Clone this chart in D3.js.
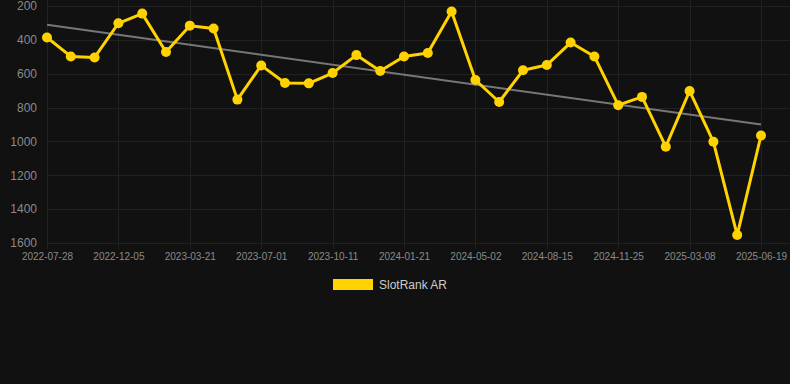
<!DOCTYPE html>
<html>
<head>
<meta charset="utf-8">
<script src="https://cdn.jsdelivr.net/npm/d3@7"></script>
<style>
  html, body { margin: 0; padding: 0; background: #111111; }
  svg { display: block; font-family: "Liberation Sans", Arial, Helvetica, sans-serif; }
</style>
</head>
<body>
<div id="chart"></div>
<script>
var dates = [
    "2022-07-28", "2022-09-10", "2022-10-23",
    "2022-12-05", "2023-01-10", "2023-02-14",
    "2023-03-21", "2023-04-24", "2023-05-28",
    "2023-07-01", "2023-08-04", "2023-09-07",
    "2023-10-11", "2023-11-14", "2023-12-18",
    "2024-01-21", "2024-02-24", "2024-03-29",
    "2024-05-02", "2024-06-06", "2024-07-11",
    "2024-08-15", "2024-09-18", "2024-10-22",
    "2024-11-25", "2024-12-29", "2025-02-01",
    "2025-03-08", "2025-04-11", "2025-05-15",
    "2025-06-19"
];

var ranks = [
    386, 498, 504, 302, 245, 472, 316, 333, 753, 551,
    655, 657, 596, 490, 584, 498, 478, 233, 637, 767,
    580, 549, 416, 498, 786, 737, 1031, 702, 1002, 1553,
    965
];

var yTicks = [200, 400, 600, 800, 1000, 1200, 1400, 1600];
var xTicks = dates.filter((d, i) => i % 3 === 0);

var seriesName = "SlotRank AR";

function makeChart() {
    var width = 790, height = 384;
    var margin = { top: 6, right: 29, bottom: 141, left: 47 };

    var svg = d3.select("#chart")
        .append("svg")
        .attr("width", width)
        .attr("height", height);

    svg.append("rect")
        .attr("width", width)
        .attr("height", height)
        .attr("fill", "#111111");

    var x = d3.scalePoint()
        .domain(dates)
        .range([margin.left, width - margin.right]);

    var y = d3.scaleLinear()
        .domain([200, 1600])
        .range([margin.top, height - margin.bottom]);

    // grid
    var grid = svg.append("g").attr("stroke", "#212121").attr("stroke-width", 1);
    grid.selectAll(".hgrid")
        .data(yTicks)
        .enter().append("line")
        .attr("x1", margin.left)
        .attr("x2", width)
        .attr("y1", d => Math.round(y(d)) + 0.5)
        .attr("y2", d => Math.round(y(d)) + 0.5);
    grid.selectAll(".vgrid")
        .data(xTicks)
        .enter().append("line")
        .attr("x1", d => Math.round(x(d)) + 0.5)
        .attr("x2", d => Math.round(x(d)) + 0.5)
        .attr("y1", 0)
        .attr("y2", height - margin.bottom + 6);

    // axes
    var yAxis = svg.append("g")
        .attr("transform", "translate(" + (margin.left - 10) + ",0)")
        .call(d3.axisLeft(y).tickValues(yTicks).tickFormat(d3.format("d")).tickSize(0).tickPadding(0));
    yAxis.select(".domain").remove();
    yAxis.selectAll("text")
        .attr("fill", "#8a8a8a")
        .style("font-size", "12px");

    var xAxis = svg.append("g")
        .attr("transform", "translate(0," + (height - margin.bottom + 10) + ")")
        .call(d3.axisBottom(x).tickValues(xTicks).tickSize(0).tickPadding(0));
    xAxis.select(".domain").remove();
    xAxis.selectAll("text")
        .attr("fill", "#8a8a8a")
        .attr("dy", "0.71em")
        .style("font-size", "10px");

    // trend line (least squares over point index)
    var n = ranks.length;
    var idx = d3.range(n);
    var mx = d3.mean(idx), my = d3.mean(ranks);
    var slope = d3.sum(idx, i => (i - mx) * (ranks[i] - my)) / d3.sum(idx, i => (i - mx) * (i - mx));
    var icpt = my - slope * mx;
    svg.append("line")
        .attr("x1", x(dates[0]))
        .attr("y1", y(icpt))
        .attr("x2", x(dates[n - 1]))
        .attr("y2", y(icpt + slope * (n - 1)))
        .attr("stroke", "#777777")
        .attr("stroke-width", 2);

    // series
    var line = d3.line()
        .x((d, i) => x(dates[i]))
        .y(d => y(d));
    svg.append("path")
        .datum(ranks)
        .attr("d", line)
        .attr("fill", "none")
        .attr("stroke", "#FFD200")
        .attr("stroke-width", 3)
        .attr("stroke-linejoin", "round");

    svg.selectAll(".pt")
        .data(ranks)
        .enter().append("circle")
        .attr("cx", (d, i) => x(dates[i]))
        .attr("cy", d => y(d))
        .attr("r", 5)
        .attr("fill", "#FFD200");

    // legend
    var legend = svg.append("g").attr("transform", "translate(333,279)");
    legend.append("rect")
        .attr("width", 40)
        .attr("height", 11)
        .attr("fill", "#FFD200");
    legend.append("text")
        .attr("x", 46)
        .attr("y", 6)
        .attr("dy", "0.35em")
        .attr("fill", "#cccccc")
        .style("font-size", "12px")
        .text(seriesName);
}

makeChart();
</script>
</body>
</html>
